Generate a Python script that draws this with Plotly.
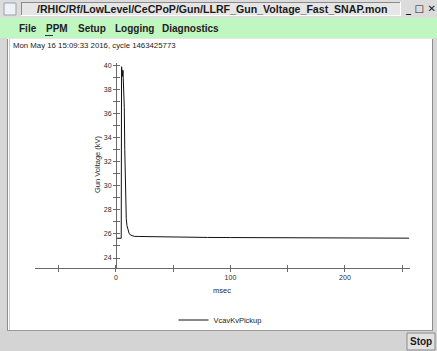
import plotly.graph_objects as go

W, H = 437, 351

# ---- data ----
t_msec = [0, 2, 4.6, 4.9, 5.2, 5.5, 5.8, 6.1, 6.4, 6.8, 7.3, 7.7, 8.1, 8.5, 9.0, 9.6,
          10.5, 11.5, 12.5, 14, 16, 20, 30, 45, 60, 80, 100, 120, 150, 180, 210, 230, 256]
v_kv = [25.64, 25.63, 25.64, 39.9, 39.4, 39.8, 39.1, 39.6, 38.9, 38.7, 36.5, 33.0, 30.0,
        28.2, 27.3, 26.7, 26.3, 26.05, 25.92, 25.84, 25.80, 25.79, 25.77, 25.74, 25.73,
        25.71, 25.70, 25.69, 25.68, 25.67, 25.66, 25.66, 25.65]
series_name = "VcavKvPickup"
x_labels = [0, 100, 200]
x_minor = [-50, 0, 50, 100, 150, 200, 250]
y_labels = [24, 26, 28, 30, 32, 34, 36, 38, 40]
x_range = [-70.7, 256.8]
y_range = [23.17, 40.25]

window_title = "/RHIC/Rf/LowLevel/CeCPoP/Gun/LLRF_Gun_Voltage_Fast_SNAP.mon"
menu_items = [("File", 17), ("PPM", 44), ("Setup", 76), ("Logging", 113), ("Diagnostics", 160)]
timestamp = "Mon May 16 15:09:33 2016, cycle 1463425773"


def X(px):
    return px / W


def Y(py):
    return 1 - py / H


fig = go.Figure()
fig.add_trace(go.Scatter(x=t_msec, y=v_kv, mode="lines", name=series_name,
                         line=dict(color="#111111", width=1)))
# helper trace for the overlay axes (crossing tick marks)
fig.add_trace(go.Scatter(x=[None], y=[None], xaxis="x2", yaxis="y2", showlegend=False,
                         hoverinfo="skip"))

axcol = "#6a6a6a"
tickfont = dict(family="Liberation Sans", size=7, color="#2a2a2a")

fig.update_layout(
    width=W, height=H,
    margin=dict(l=0, r=0, t=0, b=0),
    paper_bgcolor="#d6d6d6",
    plot_bgcolor="rgba(0,0,0,0)",
    showlegend=True,
    legend=dict(x=0.397, y=Y(320), xanchor="left", yanchor="middle",
                bgcolor="rgba(0,0,0,0)", borderwidth=0,
                font=dict(family="Liberation Sans", size=7.5, color="#222222")),
    xaxis=dict(domain=[X(35), X(410)], range=x_range, anchor="y",
               showline=True, linecolor=axcol, linewidth=1,
               showgrid=False, zeroline=False,
               ticks="outside", ticklen=3, tickcolor=axcol,
               tickvals=x_labels, ticktext=[str(v) for v in x_labels],
               tickfont=tickfont,
               minor=dict(ticks="outside", ticklen=3, tickcolor=axcol, tick0=0, dtick=50)),
    xaxis2=dict(overlaying="x", anchor="y2", range=x_range,
                showline=False, showgrid=False, zeroline=False,
                ticks="inside", ticklen=3, tickcolor=axcol,
                tickvals=x_minor, showticklabels=False),
    yaxis=dict(domain=[Y(268), Y(62.5)], range=y_range, anchor="free", position=X(116),
               showline=True, linecolor=axcol, linewidth=1,
               showgrid=False, zeroline=False,
               ticks="outside", ticklen=3, tickcolor=axcol,
               tickvals=y_labels, ticktext=[str(v) for v in y_labels],
               tickfont=tickfont,
               minor=dict(ticks="outside", ticklen=3, tickcolor=axcol, tick0=24, dtick=1)),
    yaxis2=dict(overlaying="y", anchor="free", position=X(116), range=y_range,
                showline=False, showgrid=False, zeroline=False,
                ticks="inside", ticklen=3, tickcolor=axcol,
                dtick=1, tick0=24, showticklabels=False),
)

shapes = []


def rect(x0, y0, x1, y1, fill, line=None, lw=0, layer="below"):
    shapes.append(dict(type="rect", xref="paper", yref="paper",
                       x0=X(x0), x1=X(x1), y0=Y(y1), y1=Y(y0),
                       fillcolor=fill, line=dict(color=line or fill, width=lw), layer=layer))


def hline(x0, x1, y, color, lw=1):
    shapes.append(dict(type="line", xref="paper", yref="paper",
                       x0=X(x0), x1=X(x1), y0=Y(y), y1=Y(y),
                       line=dict(color=color, width=lw), layer="below"))


def vline(x, y0, y1, color, lw=1):
    shapes.append(dict(type="line", xref="paper", yref="paper",
                       x0=X(x), x1=X(x), y0=Y(y0), y1=Y(y1),
                       line=dict(color=color, width=lw), layer="below"))


# title bar
rect(0, 0, 437, 18, "#dcdcdc")
rect(21, 2, 401, 16, "#e6e6e6")
hline(21, 401, 2.5, "#8a8a8a")
vline(21.5, 2, 16, "#8a8a8a")
hline(21, 401, 15.5, "#ffffff")
vline(400.5, 2, 16, "#ffffff")
rect(4, 3, 16, 15, "#eef2f8", line="#9aa0aa", lw=1)
# menu bar
rect(0, 18, 437, 38, "#c0f6c0")
hline(45, 53, 35.5, "#333333")
# content area
rect(7, 38, 433, 331, "#ffffff")
vline(7.5, 38, 331, "#8c8c8c")
vline(9.5, 38, 331, "#d0d0d0")
vline(432.5, 38, 331, "#8c8c8c")
hline(7, 433, 330.5, "#9a9a9a")
hline(7, 433, 38.5, "#e6e6e6")
# status bar / stop button
rect(0, 331, 437, 351, "#d4d4d4")
rect(407, 333, 435, 350, "#e2e2e2", line="#8a8a8a", lw=1)

annotations = []


def text(x, y, s, size, family="Liberation Sans", color="#1a1a1a", xanchor="left",
         angle=0):
    annotations.append(dict(xref="paper", yref="paper", x=X(x), y=Y(y), text=s,
                            showarrow=False, xanchor=xanchor, yanchor="middle",
                            textangle=angle,
                            font=dict(family=family, size=size, color=color)))


text(212, 9, "<b>" + window_title + "</b>", 10.6, xanchor="center")
text(421, 9, "<b>_ □ ✕</b>", 10, family="DejaVu Sans", xanchor="center")
for label, xpos in menu_items:
    text(xpos, 28, "<b>" + label + "</b>", 10, color="#222222")
text(11, 45.5, timestamp, 7.8, color="#222222")
text(97, 164, "Gun Voltage (kV)", 7.5, color="#2a2a2a", xanchor="center", angle=-90)
text(222, 290, "msec", 7.5, color="#2a2a2a", xanchor="center")
text(421, 341.5, "<b>Stop</b>", 10, xanchor="center")

fig.update_layout(shapes=shapes, annotations=annotations)
fig.write_html("out.html")
